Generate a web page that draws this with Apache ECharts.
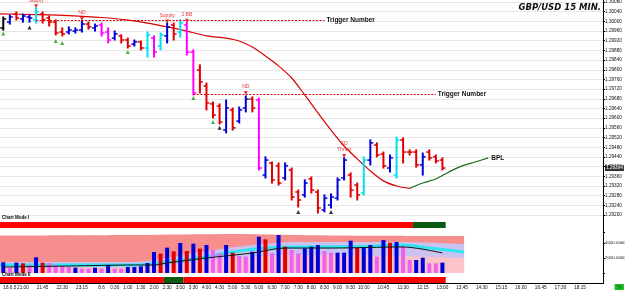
<!DOCTYPE html>
<html>
<head>
<meta charset="utf-8">
<script src="https://cdn.jsdelivr.net/npm/echarts@6/dist/echarts.min.js"></script>
<style>html,body{margin:0;padding:0;background:#fff}#chart{width:625px;height:290px}</style>
</head>
<body>
<div id="chart"></div>
<script>
// ---- axis ----
var firstBarMinute = 20 * 60 + 15;   // 15 min bars from 20:15
var barCount = 92;
var firstDayLabel = '18.6.5';
var secondDayLabel = '8.6';
var shownTicks = ['18.6.5','21:00','21:45','22:30','23:15','8.6','0:30','1:00','1:30','2:00','2:30','3:00','3:30',
  '4:00','4:30','5:00','5:30','6:00','6:30','7:00','7:30','8:00','8:30','9:00','9:30','10:00','10:45','11:30',
  '12:15','13:00','13:45','14:30','15:15','16:00','16:45','17:30','18:15'];

// ---- price bars ----
var priceOpen = [
  1.29973,1.29997,1.30030,1.30010,1.30018,1.30006,1.30030,1.30014,1.29997,1.29956,
  1.29956,1.29960,1.29964,1.29989,1.29973,1.29985,1.29956,1.29931,1.29940,1.29923,
  1.29906,1.29915,1.29890,1.29931,1.29898,1.29940,1.29985,1.29956,1.29985,1.29873,
  1.29799,1.29733,1.29659,1.29650,1.29551,1.29634,1.29588,1.29642,1.29679,1.29675,
  1.29365,1.29415,1.29403,1.29353,1.29386,1.29295,1.29283,1.29349,1.29295,1.29221,
  1.29241,1.29270,1.29353,1.29365,1.29324,1.29291,1.29427,1.29489,1.29452,1.29394,
  1.29365,1.29510,1.29460,1.29460,1.29407,1.29460,1.29440,1.29427];
var priceHigh = [
  1.30018,1.30026,1.30039,1.30030,1.30026,1.30055,1.30039,1.30022,1.30006,1.29973,
  1.29977,1.29973,1.30002,1.29997,1.29989,1.29993,1.29973,1.29960,1.29944,1.29931,
  1.29923,1.29919,1.29956,1.29940,1.29952,1.29993,1.29993,1.30006,1.29997,1.29882,
  1.29820,1.29745,1.29667,1.29659,1.29675,1.29642,1.29646,1.29692,1.29688,1.29683,
  1.29440,1.29419,1.29415,1.29415,1.29394,1.29303,1.29345,1.29357,1.29303,1.29283,
  1.29287,1.29353,1.29436,1.29374,1.29332,1.29440,1.29510,1.29498,1.29460,1.29448,
  1.29522,1.29518,1.29469,1.29469,1.29456,1.29469,1.29448,1.29436];
var priceLow = [
  1.29964,1.29989,1.30006,1.29997,1.29997,1.29993,1.29993,1.29981,1.29944,1.29940,
  1.29948,1.29952,1.29956,1.29968,1.29960,1.29940,1.29911,1.29923,1.29911,1.29890,
  1.29898,1.29882,1.29853,1.29853,1.29882,1.29911,1.29923,1.29935,1.29861,1.29696,
  1.29704,1.29634,1.29601,1.29576,1.29539,1.29551,1.29580,1.29626,1.29626,1.29386,
  1.29353,1.29332,1.29324,1.29345,1.29262,1.29233,1.29274,1.29291,1.29208,1.29213,
  1.29229,1.29262,1.29345,1.29274,1.29262,1.29283,1.29407,1.29440,1.29394,1.29378,
  1.29353,1.29415,1.29448,1.29398,1.29365,1.29427,1.29415,1.29386];
var priceClose = [
  1.30010,1.30018,1.30014,1.30022,1.30014,1.30039,1.30006,1.29997,1.29952,1.29948,
  1.29964,1.29964,1.29989,1.29977,1.29981,1.29952,1.29923,1.29948,1.29923,1.29898,
  1.29915,1.29890,1.29944,1.29873,1.29944,1.29977,1.29948,1.29993,1.29873,1.29704,
  1.29750,1.29663,1.29613,1.29584,1.29642,1.29560,1.29634,1.29679,1.29642,1.29394,
  1.29427,1.29345,1.29332,1.29403,1.29274,1.29262,1.29332,1.29303,1.29229,1.29270,
  1.29274,1.29345,1.29427,1.29303,1.29283,1.29427,1.29498,1.29448,1.29403,1.29436,
  1.29510,1.29460,1.29460,1.29407,1.29440,1.29436,1.29423,1.29394];
// bar kind: k black, b up, r down, m wide down, c wide up
var barType = [
  'k','b','r','b','b','c','r','r','r','r',
  'b','b','b','r','b','m','m','b','r','r',
  'b','r','c','m','c','b','r','c','m','m',
  'r','r','r','r','b','r','b','b','r','m',
  'b','r','r','b','r','r','b','r','r','b',
  'b','b','b','r','r','c','b','r','r','b',
  'c','r','r','r','b','r','r','r'];

// ---- moving line (BPL) ----
var bplFalling = [[-0.5,1.30031],[5,1.30028],[10,1.30024],[15,1.30016],[20,1.30002],[25,1.29977],[28,1.29960],
  [31,1.29940],[34,1.29931],[36,1.29919],[38,1.29894],[40,1.29857],[42,1.29816],[44,1.29766],[46,1.29696],
  [48,1.29622],[50,1.29551],[52,1.29485],[54,1.29432],[56,1.29382],[58,1.29341],[60,1.29320],[62,1.29310]];
var bplRising = [[62,1.29310],[64,1.29332],[66,1.29349],[68,1.29378],[70,1.29403],[72,1.29419],[74,1.29436]];

// ---- trigger lines ----
var triggerFrom = [5, 29];
var triggerTo = [49, 66];
var triggerPrice = [1.30004, 1.29700];

// ---- signals ----
var signalIdx = [5, 12, 25, 28, 37, 52];
var signalPrice = [1.30062, 1.30010, 1.29999, 1.30003, 1.29704, 1.29444];
var signalText = ['Supply', 'ND', 'Supply', '2 BB', 'ND', 'SO\nThrust'];
var supportIdx = [0, 4, 8, 9, 19, 29, 32, 33, 45, 50];
var supportPrice = [1.29950, 1.29975, 1.29919, 1.29911, 1.29873, 1.29683, 1.29584, 1.29560, 1.29212, 1.29212];
var supportKind = ['g','k','g','g','g','g','g','k','k','k'];

// ---- volume ----
var volume = [
  1430,670,1380,1290,1070,2090,1380,1330,1070,940,
  800,710,580,580,710,580,1070,580,580,800,
  800,890,1330,2800,2580,3380,2890,4000,2930,3910,
  3250,3730,3070,2620,3730,2710,2270,2180,2840,4840,
  4490,2620,5070,3510,3070,2620,3290,3510,3730,2930,
  2710,2710,2710,4310,3380,3420,3730,2180,4400,4040,
  4130,3600,1730,1730,2040,1290,1290,1380];
var volType = [
  'b','m','b','r','m','b','r','m','m','m',
  'm','b','m','m','b','m','b','m','m','b',
  'b','b','b','b','r','b','r','b','r','b',
  'r','b','m','m','b','r','m','m','b','b',
  'r','m','b','r','m','m','b','b','b','m',
  'm','b','b','b','r','b','b','m','b','r',
  'b','m','m','b','b','m','m','b'];
var volUpper = [[-0.5,5000],[20,5070],[35,5200],[50,5000],[70.3,4930]];
var volMidBand = [[-0.5,1470],[20,1470],[25,2000],[30,2800],[38,3730],[45,4130],[60,4130],[70.3,3870]];
var volLowBand = [[-0.5,670],[20,800],[25,930],[30,1470],[38,2130],[45,2400],[60,2270],[70.3,2000]];
var volSlow = [[-0.5,1070],[20,1070],[25,1470],[30,2000],[35,2800],[40,3330],[45,3470],[55,3530],[61,3730],[65,3330],[70.3,2800]];
var volAverage = [[0,800],[10,930],[20,1070],[23,1070],[25,1330],[31,2000],[38,2670],[43,3330],[50,3330],[61,3470],[67,2670]];

// ---- chart modes: [from, to, state] state 0 = sell, 1 = buy ----
var modeOneRuns = [[0, 62, 0], [63, 67, 1]];
var modeTwoRuns = [[0, 24, 0], [25, 27, 1], [28, 67, 0]];

var FONT = 'Liberation Sans';
var barColor = {k:'#000000', b:'#0000d8', r:'#e00000', m:'#ff00ff', c:'#00e0f0'};
var volColor = {b:'#0000d8', r:'#e00000', m:'#f060f0'};
var modeColor = ['#ff0000', '#0b5a12'];

var categories = [];
for (var i = 0; i < barCount; i++) {
  var t = (firstBarMinute + i * 15) % 1440;
  var s = Math.floor(t / 60) + ':' + ('0' + t % 60).slice(-2);
  if (i === 0) s = firstDayLabel;
  else if (t === 0) s = secondDayLabel;
  categories.push(s);
}

var ohlc = priceOpen.map(function (o, i) {
  return [i, o, priceHigh[i], priceLow[i], priceClose[i]];
});
var lastClose = priceClose[priceClose.length - 1];

function renderBar(params, api) {
  var i = api.value(0);
  var o = api.coord([i, api.value(1)]);
  var h = api.coord([i, api.value(2)]);
  var l = api.coord([i, api.value(3)]);
  var c = api.coord([i, api.value(4)]);
  var half = api.size([1, 0])[0] * 0.45;
  var col = barColor[barType[params.dataIndex]];
  return {type: 'group', children: [
    {type: 'line', shape: {x1: h[0], y1: h[1] - 0.5, x2: l[0], y2: l[1] + 0.5}, style: {stroke: col, lineWidth: 2}},
    {type: 'line', shape: {x1: o[0] - half, y1: o[1], x2: o[0], y2: o[1]}, style: {stroke: col, lineWidth: 1.5}},
    {type: 'line', shape: {x1: c[0], y1: c[1], x2: c[0] + half, y2: c[1]}, style: {stroke: col, lineWidth: 1.5}}
  ]};
}

function renderRun(params, api) {
  var a = api.coord([api.value(0), 1]);
  var b = api.coord([api.value(1), 0]);
  var bw = api.size([1, 0])[0];
  return {type: 'rect',
    shape: {x: a[0] - bw / 2, y: a[1], width: b[0] - a[0] + bw, height: b[1] - a[1]},
    style: {fill: modeColor[api.value(2)]}};
}

var gridBase = {left: 0, right: 22, outerBoundsMode: 'none', containLabel: false};

var option = {
  animation: false,
  backgroundColor: '#fff',
  title: [
    {text: 'GBP/USD 15 MIN.', right: 24, top: 3, padding: 0,
      textStyle: {fontFamily: 'DejaVu Sans', fontSize: 8.5, fontWeight: 'bold', fontStyle: 'italic', color: '#111'}},
    {text: 'Chart Mode I', left: 2, top: 215, padding: 0,
      textStyle: {fontFamily: FONT, fontSize: 4.5, fontWeight: 'bold', color: '#000'}},
    {text: 'Chart Mode II', left: 2, top: 272, padding: 0,
      textStyle: {fontFamily: FONT, fontSize: 4.5, fontWeight: 'bold', color: '#000'}},
    {text: 'TF', right: 1, bottom: 0, padding: [1, 2, 0, 2], backgroundColor: '#22c022',
      textStyle: {fontFamily: FONT, fontSize: 4.5, fontWeight: 'bold', color: '#063'}}
  ],
  graphic: [{type: 'line', shape: {x1: 603.5, y1: 0, x2: 603.5, y2: 284}, style: {stroke: '#000', lineWidth: 1}, z: 10}],
  grid: [
    Object.assign({top: 2, height: 213}, gridBase),
    Object.assign({top: 222, height: 6}, gridBase),
    Object.assign({top: 232, height: 41}, gridBase),
    Object.assign({top: 277, height: 6}, gridBase)
  ],
  xAxis: [
    {gridIndex: 0, type: 'category', data: categories, show: false},
    {gridIndex: 0, type: 'value', min: -0.5, max: barCount - 0.5, show: false},
    {gridIndex: 1, type: 'category', data: categories, show: false},
    {gridIndex: 2, type: 'category', data: categories, show: false},
    {gridIndex: 2, type: 'value', min: -0.5, max: barCount - 0.5, show: false},
    {gridIndex: 3, type: 'category', data: categories,
      axisLine: {show: true, lineStyle: {color: '#000', width: 1}},
      axisTick: {show: false},
      axisLabel: {interval: function (idx, val) { return shownTicks.indexOf(val) >= 0; },
        fontFamily: FONT, fontSize: 4.7, color: '#111', margin: 2, alignMinLabel: 'left'}}
  ],
  yAxis: [
    {gridIndex: 0, type: 'value', position: 'right', min: 1.292, max: 1.3008, interval: 0.0004,
      axisLine: {show: true, onZero: false, lineStyle: {color: '#000'}},
      axisTick: {show: true, length: 2, lineStyle: {color: '#000'}},
      axisLabel: {fontFamily: FONT, fontSize: 4.7, color: '#111', margin: 2,
        formatter: function (v) { return v.toFixed(5); }},
      splitLine: {show: true, lineStyle: {color: '#e6e6e6', width: 1}}},
    {gridIndex: 1, type: 'value', min: 0, max: 1, show: false},
    {gridIndex: 2, type: 'value', position: 'right', min: 0, max: 5467, interval: 2000,
      axisLine: {show: true, onZero: false, lineStyle: {color: '#000'}},
      axisTick: {show: true, length: 2, lineStyle: {color: '#000'}},
      axisLabel: {fontFamily: FONT, fontSize: 4.4, color: '#111', margin: 2,
        formatter: function (v) { return (v === 2000 || v === 4000) ? v.toFixed(5) : ''; }},
      splitLine: {show: false}},
    {gridIndex: 3, type: 'value', min: 0, max: 1, show: false}
  ],
  series: [
    // price bars with trigger lines
    {type: 'custom', name: 'price', xAxisIndex: 0, yAxisIndex: 0, data: ohlc,
      encode: {x: 0, y: [1, 2, 3, 4]}, renderItem: renderBar, z: 3,
      markLine: {symbol: 'none', silent: true,
        lineStyle: {color: '#e00000', type: [2, 1.5], width: 1},
        label: {position: 'end', distance: 2, formatter: 'Trigger Number',
          fontFamily: FONT, fontSize: 6.5, fontWeight: 'bold', color: '#111'},
        data: triggerPrice.map(function (p, k) {
          return [{coord: [triggerFrom[k], p]}, {coord: [triggerTo[k], p]}];
        })}},
    // BPL
    {type: 'line', name: 'bplFalling', xAxisIndex: 1, yAxisIndex: 0, data: bplFalling, smooth: 0.3,
      symbol: 'none', lineStyle: {color: '#d80000', width: 1.2}, z: 2},
    {type: 'line', name: 'bplRising', xAxisIndex: 1, yAxisIndex: 0, data: bplRising, smooth: 0.3,
      symbol: 'none', lineStyle: {color: '#1d6b1d', width: 1.2}, z: 2,
      endLabel: {show: true, formatter: 'BPL', distance: 3, fontFamily: FONT, fontSize: 6.5,
        fontWeight: 'bold', color: '#111'}},
    // last price tag on the axis
    {type: 'scatter', xAxisIndex: 1, yAxisIndex: 0, clip: false, symbolSize: 0, z: 20,
      data: [[barCount - 0.5, lastClose]],
      label: {show: true, position: 'right', distance: 2, formatter: lastClose.toFixed(5),
        backgroundColor: '#000', color: '#fff', padding: [1, 1, 0, 1],
        fontFamily: FONT, fontSize: 4.7, fontWeight: 'bold'}},
    // signals
    {type: 'scatter', xAxisIndex: 0, yAxisIndex: 0, symbol: 'triangle', symbolRotate: 180, symbolSize: 4,
      itemStyle: {color: '#e00000'}, z: 4,
      label: {show: true, position: 'top', distance: 1, fontFamily: FONT, fontSize: 5, color: '#e00000',
        lineHeight: 6, formatter: function (p) { return signalText[p.dataIndex]; }},
      data: signalIdx.map(function (x, k) { return [x, signalPrice[k]]; })},
    {type: 'scatter', xAxisIndex: 0, yAxisIndex: 0, symbol: 'triangle', symbolSize: 4, z: 4,
      data: supportIdx.map(function (x, k) {
        return {value: [x, supportPrice[k]], itemStyle: {color: supportKind[k] === 'g' ? '#1a9a1a' : '#000'}};
      })},
    // chart mode I
    {type: 'custom', xAxisIndex: 2, yAxisIndex: 1, renderItem: renderRun, data: modeOneRuns,
      encode: {x: [0, 1], y: 2}},
    // volume panel background
    {type: 'line', xAxisIndex: 4, yAxisIndex: 2, data: volUpper, symbol: 'none', smooth: 0.3,
      lineStyle: {width: 0}, areaStyle: {color: '#f68e8e', opacity: 1}, z: 1},
    {type: 'line', xAxisIndex: 4, yAxisIndex: 2, data: volMidBand, symbol: 'none', smooth: 0.3,
      lineStyle: {width: 0}, areaStyle: {color: '#cbc2f0', opacity: 1}, z: 1},
    {type: 'line', xAxisIndex: 4, yAxisIndex: 2, data: volLowBand, symbol: 'none', smooth: 0.3,
      lineStyle: {width: 0}, areaStyle: {color: '#fac4c8', opacity: 1}, z: 1},
    {type: 'line', xAxisIndex: 4, yAxisIndex: 2, data: volSlow, symbol: 'none', smooth: 0.3,
      lineStyle: {color: '#30e4f2', width: 3}, z: 2},
    {type: 'bar', xAxisIndex: 3, yAxisIndex: 2, barWidth: 4, z: 3,
      data: volume.map(function (v, i) { return {value: v, itemStyle: {color: volColor[volType[i]]}}; })},
    {type: 'line', xAxisIndex: 4, yAxisIndex: 2, data: volAverage, symbol: 'none', smooth: 0.3,
      lineStyle: {color: '#111', width: 1}, z: 4},
    // chart mode II
    {type: 'custom', xAxisIndex: 5, yAxisIndex: 3, renderItem: renderRun, data: modeTwoRuns,
      encode: {x: [0, 1], y: 2}}
  ]
};

var chart = echarts.init(document.getElementById('chart'));
chart.setOption(option);
</script>
</body>
</html>
